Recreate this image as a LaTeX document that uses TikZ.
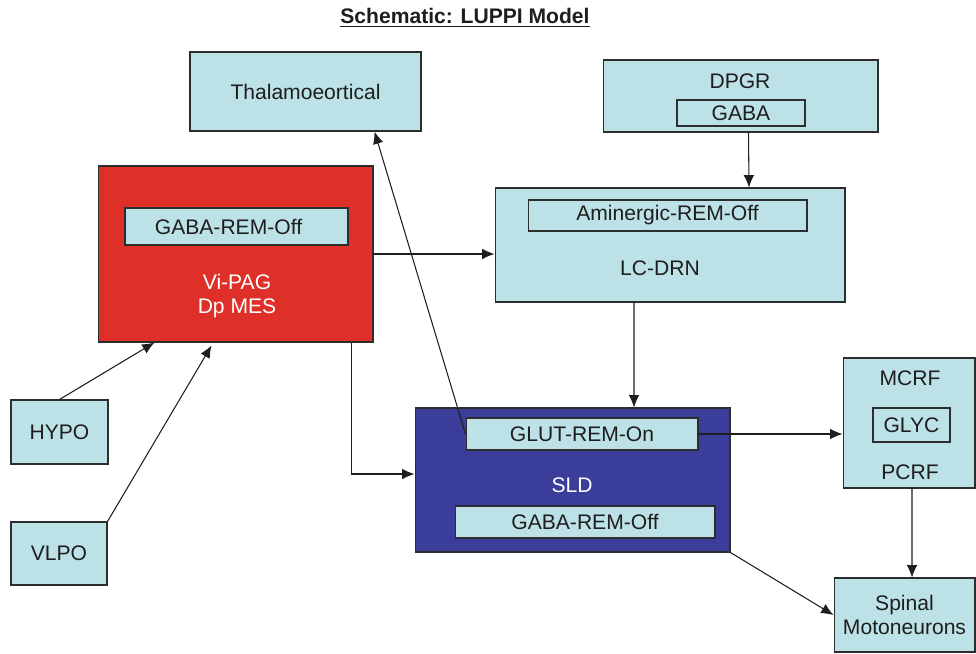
\documentclass[tikz,border=0pt]{standalone}
\usepackage{xcolor}
\usepackage{fontspec}
\setmainfont{Liberation Sans}
\usepackage{tikz}
\usetikzlibrary{arrows.meta,calc}
\definecolor{pale}{RGB}{188,225,230}
\definecolor{offred}{RGB}{222,48,40}
\definecolor{sldblue}{RGB}{58,62,154}
\definecolor{edge}{RGB}{45,45,45}
\definecolor{ink}{RGB}{30,30,30}

\begin{document}
\begin{tikzpicture}[x=0.02cm, y=-0.02cm, font=\fontsize{12}{14}\selectfont]
\useasboundingbox (0,0) rectangle (976,653);

\begin{scope}[every node/.style={draw=edge, line width=0.6pt, text=ink, inner sep=0pt, align=center}]
    \node(thal)[fill=pale, minimum width=4.62cm, minimum height=1.58cm] at (305.5,91.5) {Thalamoeortical};
    \node(dpgr)[fill=pale, minimum width=5.5cm, minimum height=1.44cm] at (740.5,96) {};
    \node(gaba)[fill=pale, minimum width=2.56cm, minimum height=0.52cm] at (741,113) {GABA};
    \node(vipag)[fill=offred, minimum width=5.5cm, minimum height=3.52cm] at (235.5,254) {};
    \node(vioff)[fill=pale, minimum width=4.46cm, minimum height=0.74cm] at (236.5,226.5) {GABA-REM-Off\hspace*{0.32cm}};
    \node(lcdrn)[fill=pale, minimum width=7cm, minimum height=2.28cm] at (670,245) {};
    \node(amin)[fill=pale, minimum width=5.58cm, minimum height=0.62cm] at (667.5,215.5) {Aminergic-REM-Off};
    \node(sld)[fill=sldblue, minimum width=6.3cm, minimum height=2.88cm] at (572.5,480) {};
    \node(glut)[fill=pale, minimum width=4.64cm, minimum height=0.64cm] at (582,434) {GLUT-REM-On};
    \node(sldoff)[fill=pale, minimum width=5.2cm, minimum height=0.64cm] at (585,522) {GABA-REM-Off};
    \node(mcrf)[fill=pale, minimum width=2.64cm, minimum height=2.6cm] at (909,423) {};
    \node(glyc)[fill=pale, minimum width=1.54cm, minimum height=0.68cm] at (911.5,425) {GLYC};
    \node(spinal)[fill=pale, minimum width=2.82cm, minimum height=1.48cm] at (904.5,615) {Spinal\\Motoneurons};
    \node(hypo)[fill=pale, minimum width=1.94cm, minimum height=1.28cm] at (59.5,432) {HYPO};
    \node(vlpo)[fill=pale, minimum width=1.92cm, minimum height=1.26cm] at (59,553.5) {VLPO};
\end{scope}

% labels inside the big boxes
\node(dpgrlbl)[text=ink] at (740,81) {DPGR};
\node(vipaglbl)[text=white, align=center] at (237,296) {Vi-PAG\\Dp MES};
\node(lcdrnlbl)[text=ink] at (660,268) {LC-DRN};
\node(sldlbl)[text=white] at (572,485) {SLD};
\node(mcrflbl)[text=ink] at (910,378) {MCRF};
\node(pcrflbl)[text=ink] at (910,472) {PCRF};
\node(title)[text=ink] at (465,18) {\bfseries\underline{Schematic: LUPPI Model}};

\begin{scope}[>={Latex[length=7pt,width=6pt]}, line width=0.6pt, draw=ink]
\draw[->] (hypo.north) -- ($(vipag.south west)+(57,0)$);
\draw[->] (vlpo.north east) -- ($(vipag.south west)+(114,3)$);
\draw[->] (vipag.east) -- (vipag.east -| lcdrn.west);
\draw[->] ($(vipag.south east)+(-22,0)$) |- ($(sld.west)+(0,-6)$);
\draw[->] (glut.west) -- ($(thal.south)+(69,0)$);
\draw[->] ($(dpgr.south)+(8,0)$) -- ($(lcdrn.north)+(79,0)$);
\draw[->] ($(lcdrn.south)+(-36,0)$) -- ($(sld.north)+(61.5,0)$);
\draw[->] (glut.east) -- (glut.east -| mcrf.west);
\draw[->] ($(mcrf.south)+(3,0)$) -- ($(spinal.north)+(7.5,0)$);
\draw[->] (sld.south east) -- (spinal.west);
\end{scope}
\end{tikzpicture}
\end{document}
